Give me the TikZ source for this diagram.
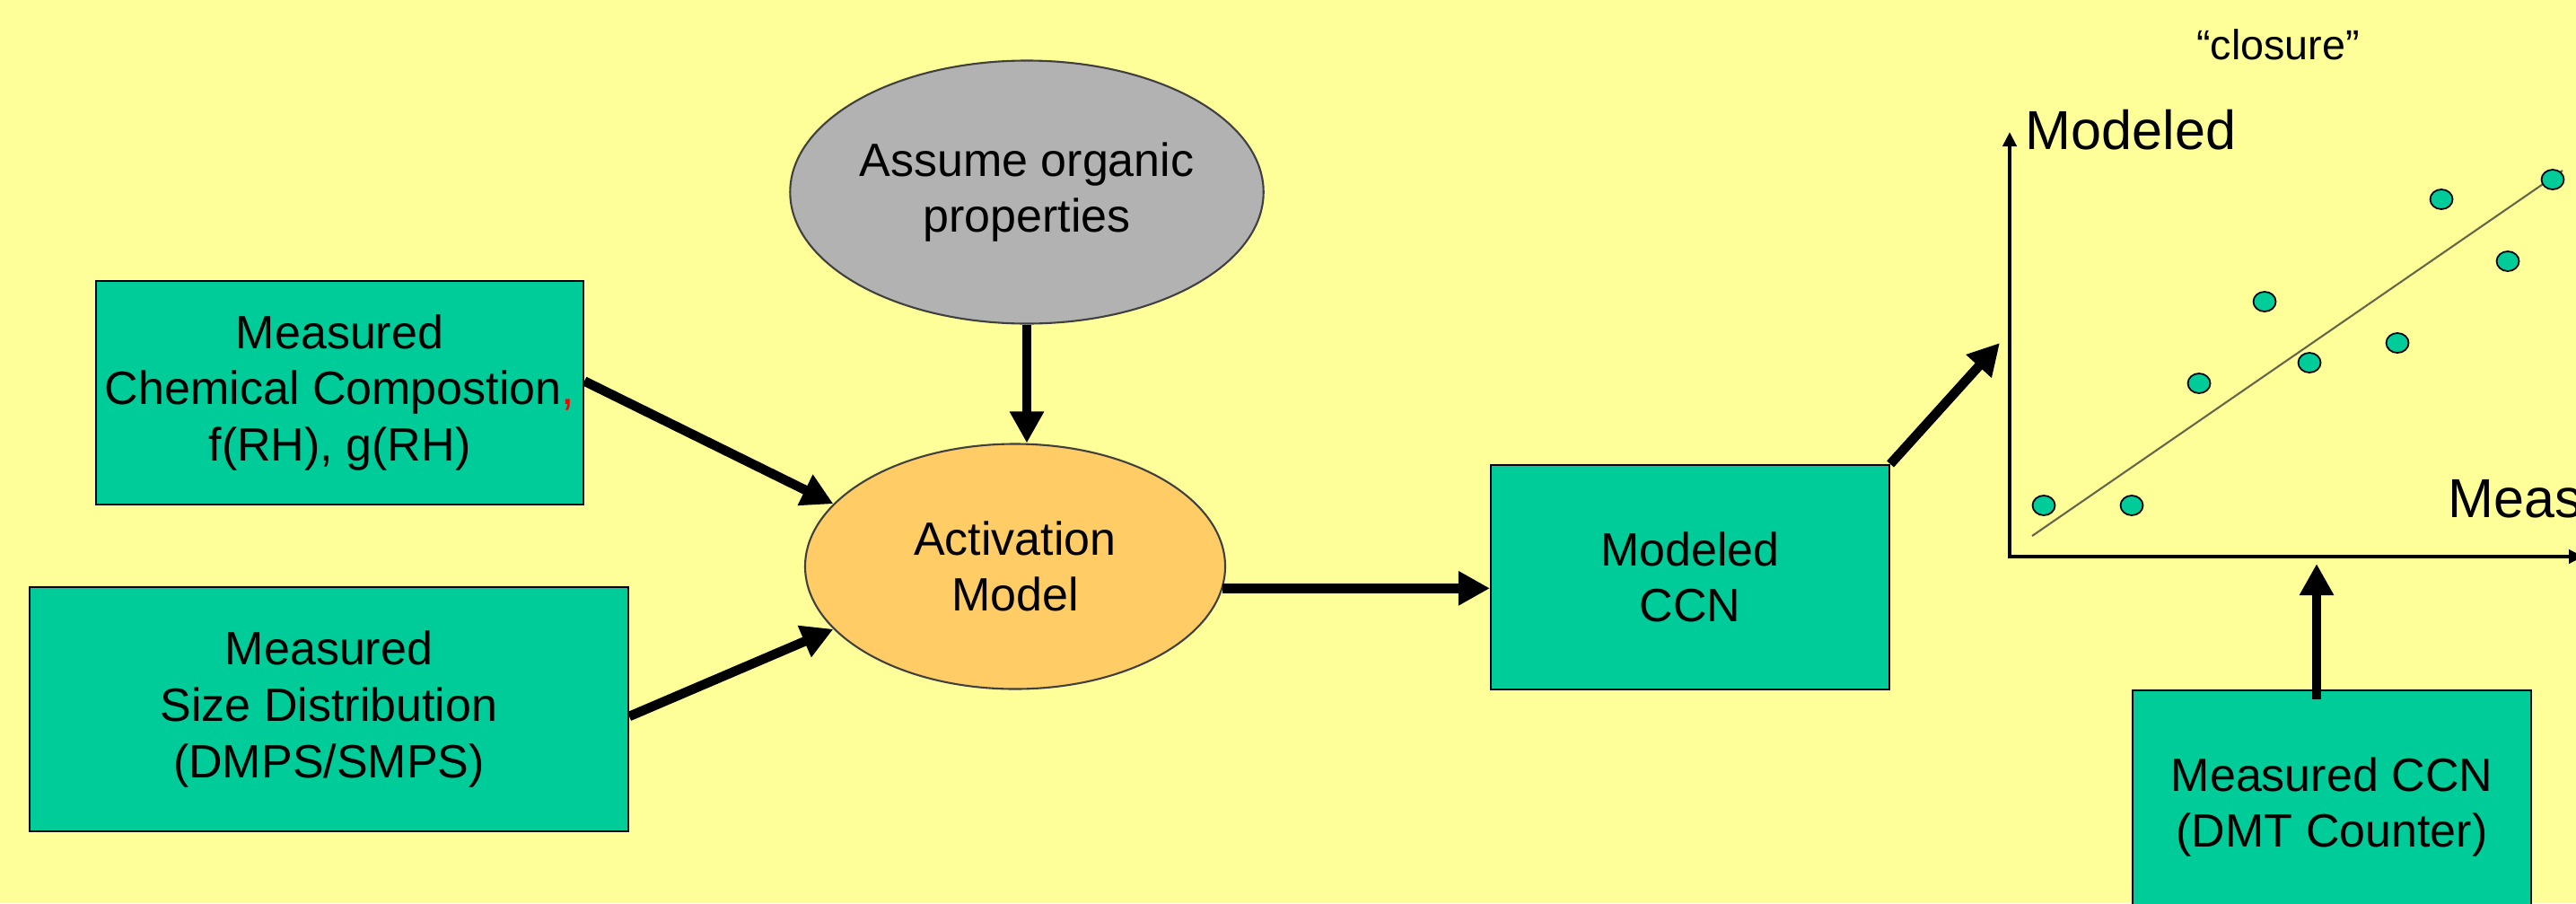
\documentclass[tikz,border=0pt]{standalone}
\usepackage{fontspec}
\setmainfont{Liberation Sans}
\usepackage{xcolor}
\usepackage{tikz}
\usetikzlibrary{arrows.meta,shapes,calc}
\newcommand{\flowlw}{3pt}
\newcommand{\axislw}{1.4pt}
\newcommand{\boxfont}{\fontsize{14.8}{17.8}\selectfont}
\definecolor{bgyellow}{RGB}{255,255,153}
\definecolor{boxgreen}{RGB}{0,204,153}
\definecolor{ovalgray}{RGB}{178,178,178}
\definecolor{ovalorange}{RGB}{255,204,102}
\definecolor{fitcolor}{RGB}{102,102,77}

\begin{document}
\begin{tikzpicture}[scale=1]
            \tikzset{inbox/.style = {draw=black, line width=0.6pt, fill=boxgreen, align=center, inner sep=1pt, font=\boxfont}}
            \tikzset{oval/.style = {ellipse, draw=black!75, line width=0.6pt, align=center, inner sep=0pt, font=\boxfont}}
            \tikzset{flow/.style = {line width=\flowlw, -{Triangle[length=0.35cm, width=0.36cm]}}}
            \tikzset{axisline/.style = {line width=\axislw, {Triangle[length=0.16cm, width=0.15cm]}-{Triangle[length=0.16cm, width=0.15cm]}}}
            \tikzset{dot/.style = {ellipse, draw=black, line width=0.5pt, fill=boxgreen, minimum width=0.25cm, minimum height=0.22cm, inner sep=0pt}}
            \useasboundingbox (0,0) rectangle (28.7,10.06);
            \clip (0,0) rectangle (28.7,10.06);
            \fill[bgyellow] (0,0) rectangle (28.7,10.06);

            \node[inbox, minimum width=5.43cm, minimum height=2.49cm] (chem) at (3.785,5.685)
                {Measured\\Chemical Compostion\textcolor{red}{,}\\f(RH), g(RH)};
            \node[inbox, minimum width=6.67cm, minimum height=2.72cm] (size) at (3.665,2.16)
                {Measured\\Size Distribution\\(DMPS/SMPS)};
            \node[oval, fill=ovalgray, minimum width=4.94cm, minimum height=2.93cm] (organic) at (11.44,7.92)
                {Assume organic\\properties};
            \node[oval, fill=ovalorange, minimum width=4.68cm, minimum height=2.73cm] (act) at (11.31,3.75)
                {Activation\\Model};
            \node[inbox, minimum width=4.44cm, minimum height=2.50cm] (modccn) at (18.83,3.63)
                {Modeled\\CCN};
            \node[inbox, minimum width=4.44cm, minimum height=2.6cm, anchor=north] (measccn) at (25.98,2.38)
                {Measured CCN\\(DMT Counter)};

            \draw[flow] ($(chem.east)+(0,0.13)$) -- (act.161);
            \draw[flow] ($(size.east)+(0,-0.08)$) -- (act.199);
            \draw[flow] (organic.south) -- (organic.south |- act.north);
            \draw[flow] (act.-6) -- (act.-6 -| modccn.west);

            % closure plot
            \coordinate (origin) at (22.39,3.86);
            \coordinate (ytop) at (22.39,8.59);
            \coordinate (xend) at (28.78,3.86);
            \draw[axisline] (ytop) -- (origin) -- (xend);
            \coordinate (fita) at (22.64,4.09);
            \coordinate (fitb) at (28.55,8.16);
            \draw[fitcolor, line width=0.6pt] (fita) -- (fitb);
            \node[dot] (d1) at (22.77,4.43) {};
            \node[dot] (d2) at (23.75,4.43) {};
            \node[dot] (d3) at (24.50,5.79) {};
            \node[dot] (d4) at (25.23,6.70) {};
            \node[dot] (d5) at (25.73,6.02) {};
            \node[dot] (d6) at (26.71,6.24) {};
            \node[dot] (d7) at (27.20,7.84) {};
            \node[dot] (d8) at (27.94,7.15) {};
            \node[dot] (d9) at (28.44,8.06) {};
            \node[anchor=base west, inner sep=0pt, font=\fontsize{17.4}{20}\selectfont] (ylab) at (22.56,8.40) {Modeled};
            \node[anchor=base west, inner sep=0pt, font=\fontsize{17.4}{20}\selectfont] (xlab) at (27.27,4.30) {Measured};
            \node[anchor=base, inner sep=0pt, font=\fontsize{13.3}{16}\selectfont] (closure) at (25.38,9.40) {“closure”};

            \coordinate (yin) at (22.28,6.24);
            \coordinate (xin) at (25.81,3.78);
            \draw[flow] (modccn.north east) -- (yin);
            \draw[flow, shorten <=-0.11cm] (measccn.north -| xin) -- (xin);
\end{tikzpicture}
\end{document}
